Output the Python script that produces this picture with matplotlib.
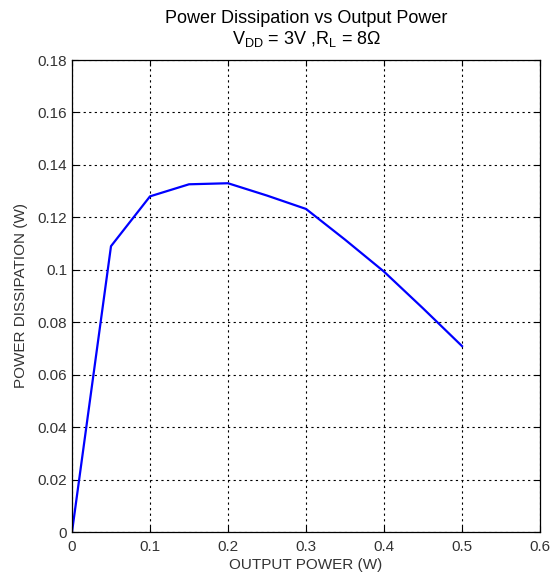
import numpy as np
import matplotlib
matplotlib.use("Agg")
import matplotlib.pyplot as plt

# output power (W) and power dissipation (W)
p_out = [0.0, 0.05, 0.10, 0.15, 0.20, 0.25, 0.30, 0.35, 0.40, 0.45, 0.50]
p_diss = [0.0, 0.109, 0.128, 0.1326, 0.133, 0.1283, 0.1232, 0.1115, 0.0993, 0.0853, 0.0709]

x_ticks = [0, 0.1, 0.2, 0.3, 0.4, 0.5, 0.6]
y_ticks = [0, 0.02, 0.04, 0.06, 0.08, 0.1, 0.12, 0.14, 0.16, 0.18]

plt.rcParams['font.family'] = ['Liberation Sans', 'DejaVu Sans']
plt.rcParams['mathtext.fontset'] = 'custom'
plt.rcParams['mathtext.rm'] = 'Liberation Sans'

fig = plt.figure(figsize=(5.5, 5.73), dpi=100)
ax = fig.add_axes([72 / 550, 41 / 573, 468 / 550, 472 / 573])

ax.plot(p_out, p_diss, color='#0000ff', linewidth=1.6)

ax.set_xlim(0, 0.6)
ax.set_ylim(0, 0.18)
ax.set_xticks(x_ticks)
ax.set_xticklabels(['0', '0.1', '0.2', '0.3', '0.4', '0.5', '0.6'])
ax.set_yticks(y_ticks)
ax.set_yticklabels(['0', '0.02', '0.04', '0.06', '0.08', '0.1', '0.12', '0.14', '0.16', '0.18'])

ax.grid(True, color='black', linestyle=(0, (2, 3)), linewidth=0.8)
ax.tick_params(direction='in', top=True, right=True, length=4, labelsize=11,
               labelcolor='#333333', width=0.8)
ax.tick_params(axis='x', pad=6)
for s in ax.spines.values():
    s.set_linewidth(0.9)

ax.set_xlabel('OUTPUT POWER (W)', fontsize=11, color='#333333', labelpad=3)
ax.set_ylabel('POWER DISSIPATION (W)', fontsize=11, color='#333333', labelpad=7)

fig.text(0.557, 0.982, 'Power Dissipation vs Output Power', ha='center', va='top', fontsize=13)
fig.text(0.557, 0.950, r'$\mathregular{V_{DD}}$ = 3V ,$\mathregular{R_L}$ = 8Ω', ha='center', va='top',
         fontsize=13)

fig.savefig('out.png', dpi=100)
